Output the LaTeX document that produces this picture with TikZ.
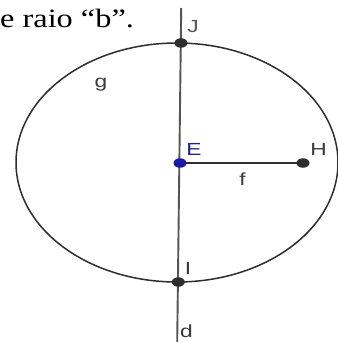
\documentclass[tikz,border=0pt]{standalone}
\usepackage{fontspec}
\usepackage{graphicx}
\setmainfont{Liberation Serif}
\newfontfamily\labfont{Liberation Sans}
\usetikzlibrary{shapes.geometric,backgrounds}
\definecolor{ptgray}{HTML}{2E2E2E}
\definecolor{linegray}{HTML}{555555}
\definecolor{labgray}{HTML}{3A3A3A}
\definecolor{ptblue}{HTML}{1A1AA6}
\definecolor{labblue}{HTML}{22227A}
\newcommand\wide[2][1.3]{\scalebox{#1}[1]{#2}}
\tikzset{
  gpoint/.style={ellipse,fill=ptgray,draw=none,minimum width=13pt,minimum height=9.5pt,inner sep=0pt},
  bpoint/.style={gpoint,fill=ptblue},
  lab/.style={anchor=base,inner sep=0pt,text=labgray,font=\labfont\fontsize{17.5}{19}\selectfont},
  conic/.style={draw=ptgray,line width=1.5pt},
  lineD/.style={draw=linegray,line width=1.9pt},
  seg/.style={draw=ptgray,line width=1.5pt}
}
\begin{document}
\begin{tikzpicture}[x=1pt,y=-1pt]
\useasboundingbox (0,0) rectangle (337,342);
% points
\node[gpoint] (J) at (181,43) {};
\node[bpoint] (E) at (180,163) {};
\node[gpoint] (H) at (303,163) {};
\node[gpoint] (I) at (178.3,282) {};
\coordinate (dtop) at (181.2,8);
\coordinate (dbot) at (177.2,342);
\begin{scope}[on background layer]
  \fill[white] (0,0) rectangle (337,342);
  \draw[conic] (177,162.5) ellipse [x radius=161pt, y radius=119.5pt];
  \draw[lineD] (dtop) -- (dbot);
  \draw[seg] (E.center) -- (H.center);
\end{scope}
% labels
\node[lab,text=linegray] (Jl) at (193,33) {\wide{J}};
\node[lab] (gl) at (101,87.5) {\wide{g}};
\node[lab,text=labblue] (El) at (194,155) {\wide{E}};
\node[lab] (Hl) at (318.5,155) {\wide{H}};
\node[lab] (fl) at (242.5,185) {\wide{f}};
\node[lab] (Il) at (188,274) {\wide{I}};
\node[lab] (dl) at (186.5,337) {\wide{d}};
% caption text
\node[anchor=base west,inner sep=0pt,font=\fontsize{26.5}{30}\selectfont] (txt) at (0,27.7) {\wide[1.22]{e raio “b”.}};
\end{tikzpicture}
\end{document}
